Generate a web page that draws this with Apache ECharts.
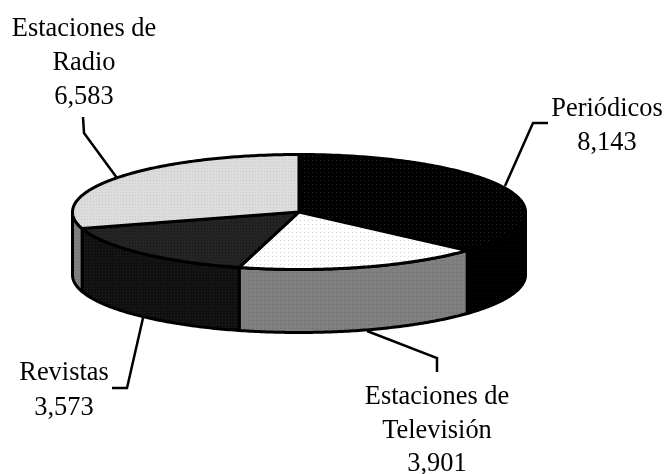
<!DOCTYPE html>
<html><head><meta charset="utf-8">
<style>html,body{margin:0;padding:0;background:#fff}#c{width:664px;height:474px}</style>
<script src="https://cdn.jsdelivr.net/npm/echarts@6/dist/echarts.min.js"></script>
</head><body><div id="c"></div>
<script>
const categories = ['Periódicos', 'Estaciones de Televisión', 'Revistas', 'Estaciones de Radio'];
const values = [8143, 3901, 3573, 6583];
const valueLabels = ['8,143', '3,901', '3,573', '6,583'];

const PIE = {cx: 299, cy: 212, a: 226.5, b: 57.5, depth: 63};
const FONT = '26.4px "Liberation Serif"';
const labelLayout = [
  {x: 607, lines: [['Periódicos', 109], [null, 143]], leader: [[548,123],[533,123],[505,186]]},
  {x: 437, lines: [['Estaciones de', 397], ['Televisión', 431], [null, 464]], leader: [[437,372],[437,358],[367,331]]},
  {x: 64,  lines: [['Revistas', 373], [null, 408]], leader: [[112,388],[127,388],[143,318]]},
  {x: 84,  lines: [['Estaciones de', 29], ['Radio', 63], [null, 97]], leader: [[83,117],[84,133],[117,178]]}
];

function pat(bg, dot, period, size) {
  const c = document.createElement('canvas');
  c.width = c.height = period;
  const g = c.getContext('2d');
  g.fillStyle = bg; g.fillRect(0, 0, period, period);
  g.fillStyle = dot; g.fillRect(0, 0, size, size);
  return {image: c, repeat: 'repeat'};
}
const topFill = [pat('#000', '#2a2a2a', 4, 1), pat('#fff', '#d0d0d0', 4, 1), pat('#242424', '#161616', 3, 1), pat('#dcdcdc', '#c8c8c8', 3, 1)];
const sideFill = [pat('#000', '#0e0e0e', 4, 1), pat('#808080', '#6c6c6c', 4, 1), pat('#101010', '#222222', 3, 1), pat('#808080', '#707070', 3, 1)];

const total = values.reduce((s, v) => s + v, 0);
const toRad = v => v / total * 2 * Math.PI;
const pt = (t, dy) => [PIE.cx + PIE.a * Math.sin(t), PIE.cy - PIE.b * Math.cos(t) + (dy || 0)];
function arc(t0, t1, dy) {
  const n = Math.max(2, Math.ceil((t1 - t0) * 80)), pts = [];
  for (let i = 0; i <= n; i++) pts.push(pt(t0 + (t1 - t0) * i / n, dy));
  return pts;
}
const textStyle = (text, x, y) => ({type: 'text', z2: 5, style: {text, x, y, font: FONT, fill: '#000', align: 'center', verticalAlign: 'middle'}});
const stroke = {stroke: '#000', lineWidth: 3, lineJoin: 'round'};

function renderItem(params, api) {
  const i = params.dataIndex;
  let start = 0;
  for (let k = 0; k < i; k++) start += toRad(values[k]);
  const t0 = start, t1 = start + toRad(api.value(1));
  const children = [];

  const s0 = Math.max(t0, Math.PI / 2), s1 = Math.min(t1, Math.PI * 1.5);
  if (s1 > s0) {
    const upper = arc(s0, s1, 0), lower = arc(s0, s1, PIE.depth).reverse();
    children.push({type: 'polygon', z2: 1, shape: {points: upper.concat(lower)},
      style: Object.assign({fill: sideFill[i]}, stroke)});
  }
  children.push({type: 'polygon', z2: 2, shape: {points: [[PIE.cx, PIE.cy]].concat(arc(t0, t1, 0))},
    style: Object.assign({fill: topFill[i]}, stroke)});

  const lay = labelLayout[i];
  children.push({type: 'polyline', z2: 0, shape: {points: lay.leader},
    style: {fill: 'none', stroke: '#000', lineWidth: 2.5}});
  lay.lines.forEach(l => children.push(textStyle(l[0] === null ? valueLabels[i] : l[0], lay.x, l[1])));
  return {type: 'group', children};
}

const chart = echarts.init(document.getElementById('c'), null, {renderer: 'canvas'});
chart.setOption({
  animation: false,
  backgroundColor: '#fff',
  series: [{
    type: 'custom',
    coordinateSystem: 'none',
    renderItem,
    data: categories.map((c, i) => ({name: c, value: [i, values[i]]}))
  }]
});
</script></body></html>
